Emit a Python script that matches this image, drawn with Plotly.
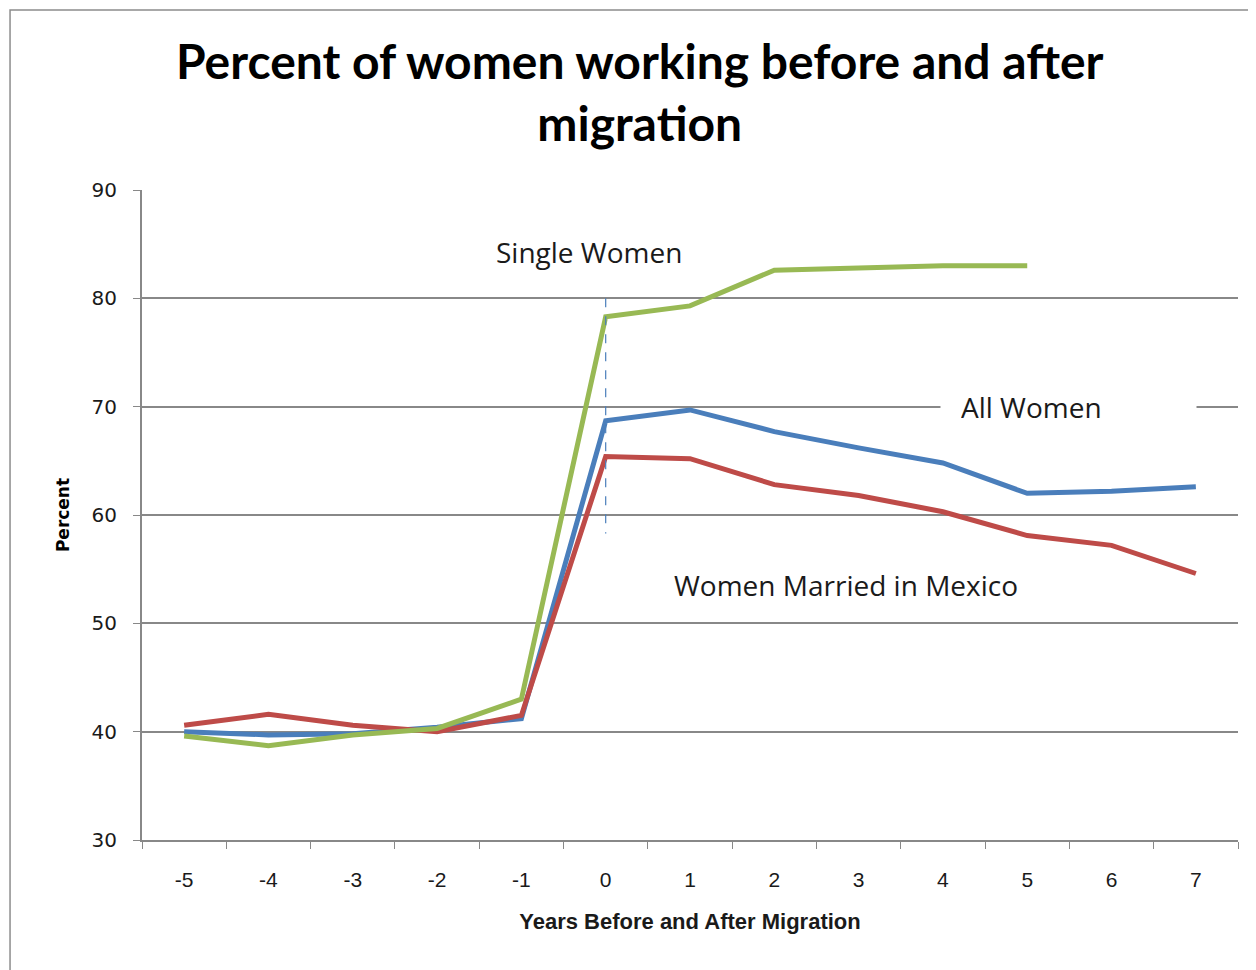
import plotly.graph_objects as go

years = ["-5", "-4", "-3", "-2", "-1", "0", "1", "2", "3", "4", "5", "6", "7"]
all_women = [40.0, 39.7, 39.8, 40.4, 41.2, 68.7, 69.7, 67.7, 66.2, 64.8, 62.0, 62.2, 62.6]
married_mexico = [40.6, 41.6, 40.6, 40.0, 41.5, 65.4, 65.2, 62.8, 61.8, 60.3, 58.1, 57.2, 54.6]
single_women = [39.6, 38.7, 39.7, 40.3, 43.0, 78.3, 79.3, 82.6, 82.8, 83.0, 83.0, None, None]
migration_marker = [80.0, 58.3]

fig = go.Figure()
fig.add_trace(go.Scatter(x=years, y=all_women, mode="lines", name="All Women",
                         line=dict(color="#4A7EBB", width=5)))
fig.add_trace(go.Scatter(x=years, y=married_mexico, mode="lines", name="Women Married in Mexico",
                         line=dict(color="#BE4B48", width=5)))
fig.add_trace(go.Scatter(x=years, y=single_women, mode="lines", name="Single Women",
                         line=dict(color="#98B954", width=5), connectgaps=False))
fig.add_trace(go.Scatter(x=["0", "0"], y=migration_marker, mode="lines",
                         line=dict(color="#4A7EBB", width=1.2, dash="dash"), hoverinfo="skip"))

# label positions as category index (0 = year -5)
txt = dict(family="Open Sans, sans-serif", size=28, color="#1a1a1a")
fig.add_annotation(x=4.8, y=84.3, text="Single Women", showarrow=False, font=txt)
# Excel-style label box: blanks out the gridline behind it
fig.add_annotation(x=10.49, y=70, text="All Women", showarrow=False, font=txt,
                   bgcolor="white", borderpad=20, width=215, align="left")
fig.add_annotation(x=7.85, y=53.5, text="Women Married in Mexico", showarrow=False, font=txt)

# chart title
fig.add_annotation(xref="paper", yref="paper", x=0.454, y=1.246, yanchor="top",
                   text="<b>Percent of women working before and after<br>migration</b>",
                   showarrow=False, align="center",
                   font=dict(family="Lato, sans-serif", size=48, color="black"))

# outer chart frame
fig.add_shape(type="rect", xref="paper", yref="paper", x0=-0.1204, x1=1.1, y0=-0.5, y1=1.277,
              line=dict(color="#8c8c8c", width=1.5), layer="below")

# page body adds an 8px offset, so the figure is 8px smaller than the window
fig.update_layout(
    showlegend=False,
    width=1248, height=962,
    margin=dict(l=134, r=18, t=182, b=130, autoexpand=False),
    plot_bgcolor="white", paper_bgcolor="white",
    xaxis=dict(type="category", categoryorder="array", categoryarray=years,
               range=[-0.5, 12.5], automargin=False,
               tickson="boundaries", ticks="outside", ticklen=7, tickcolor="#888888",
               showline=True, linecolor="#888888", linewidth=2, showgrid=False,
               ticklabelstandoff=20,
               tickfont=dict(family="Liberation Sans, sans-serif", size=21, color="#1a1a1a"),
               title=dict(text="<b>Years Before and After Migration</b>", standoff=23,
                          font=dict(family="Liberation Sans, sans-serif", size=22, color="#1a1a1a"))),
    yaxis=dict(range=[30, 90], tickvals=[30, 40, 50, 60, 70, 80, 90], ticks="outside",
               automargin=False,
               ticklen=7, tickcolor="#888888", showline=True, linecolor="#888888", linewidth=2,
               showgrid=True, gridcolor="#888888", gridwidth=1.6, zeroline=False,
               ticklabelstandoff=12,
               tickfont=dict(family="DejaVu Sans, sans-serif", size=20, color="#1a1a1a"),
               title=dict(text="<b>Percent</b>", standoff=18,
                          font=dict(family="DejaVu Sans, sans-serif", size=17, color="black"))),
)

fig.write_html("out.html")
